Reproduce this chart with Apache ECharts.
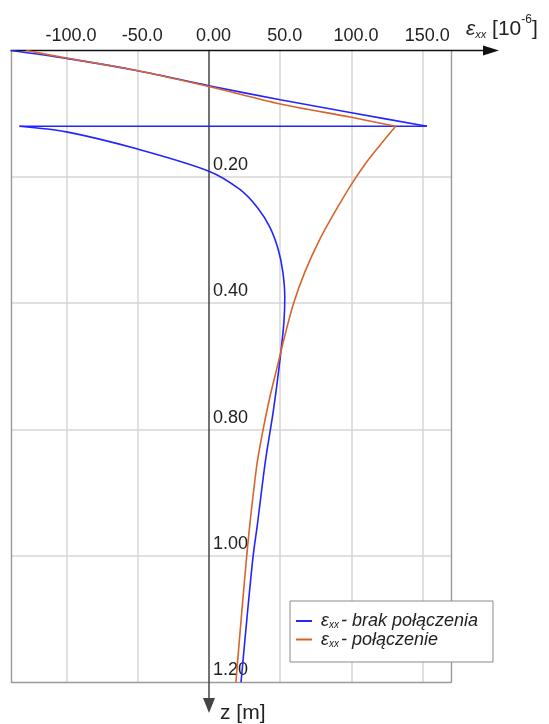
<!DOCTYPE html>
<html>
<head>
<meta charset="utf-8">
<script src="https://cdn.jsdelivr.net/npm/echarts@6/dist/echarts.min.js"></script>
<style>
  html, body { margin: 0; padding: 0; background: #ffffff; }
  #chart { width: 549px; height: 724px; }
</style>
</head>
<body>
<div id="chart"></div>
<script>
// Strain ticks along the top axis [10^-6]
const strainTicks = [-100, -50, 0, 50, 100, 150];
const strainTickLabels = ['-100.0', '-50.0', '0.00', '50.0', '100.0', '150.0'];

// Depth gridlines along the vertical axis [m] and their printed labels
const depthTicks = [0.2, 0.4, 0.6, 0.8, 1.0];
const depthTickLabels = ['0.20', '0.40', '0.80', '1.00', '1.20'];

// Plot frame and axis extents
const strainMin = -138.9;
const strainFrameMax = 170.3;
const strainAxisMax = 197.9;
const depthFrameMax = 1.0;
const depthAxisMax = 1.0368;

// Strain profile without bond between layers: [eps_xx, z]
const noBondUpper = [[-139, 0], [-100, 0.0125], [-50, 0.032], [0, 0.0557], [50, 0.078], [100, 0.0985], [153, 0.12]];
const noBondJump = [[153, 0.12], [-133, 0.12]];
const noBondLower = [[-133, 0.12], [-100, 0.1288], [-50, 0.156], [0, 0.191], [21.7, 0.22], [34.5, 0.25],
  [42.8, 0.28], [48.6, 0.315], [51.8, 0.35], [53.2, 0.39], [52.6, 0.43], [49.8, 0.49], [45.2, 0.57],
  [39.6, 0.65], [34.0, 0.75], [31.0, 0.8], [26.6, 0.9], [22.5, 1.0]];

// Strain profile with bonded layers: [eps_xx, z]
const bondUpper = [[-128, 0], [-100, 0.012], [-50, 0.032], [0, 0.057], [50, 0.0846], [100, 0.1058], [131, 0.12]];
const bondLower = [[131, 0.12], [120, 0.15], [109.5, 0.18], [100.5, 0.21], [89.8, 0.25], [77.5, 0.3],
  [67.4, 0.35], [59.4, 0.4], [53.4, 0.45], [48.0, 0.5], [42.6, 0.55], [38.0, 0.6], [34.0, 0.65],
  [31.2, 0.7], [28.7, 0.75], [26.5, 0.8], [22.6, 0.9], [18.9, 1.0]];

const seriesNames = ['brak połączenia', 'połączenie'];
const seriesColors = ['#2424ff', '#d6652c'];

const FONT = 'Liberation Sans, Arial, sans-serif';
const TEXT = '#222222';

function curve(name, data, color, smooth) {
  return {
    type: 'line', name: name, data: data, smooth: smooth,
    symbol: 'none', silent: true, z: 3,
    lineStyle: { color: color, width: 1.6 }, itemStyle: { color: color }
  };
}

// gridlines and frame drawn in data coordinates
const gridLines = [];
strainTicks.filter(v => v !== 0).forEach(v => {
  gridLines.push([{ coord: [v, 0] }, { coord: [v, depthFrameMax] }]);
});
depthTicks.filter(d => d < depthFrameMax).forEach(d => {
  gridLines.push([{ coord: [strainMin, d] }, { coord: [strainFrameMax, d] }]);
});
const frameStyle = { color: '#9a9a9a', width: 1.4, type: 'solid' };
gridLines.push([{ coord: [strainMin, 0], lineStyle: frameStyle }, { coord: [strainMin, depthFrameMax] }]);
gridLines.push([{ coord: [strainFrameMax, 0], lineStyle: frameStyle }, { coord: [strainFrameMax, depthFrameMax] }]);
gridLines.push([{ coord: [strainMin, depthFrameMax], lineStyle: frameStyle }, { coord: [strainFrameMax, depthFrameMax] }]);

const chart = echarts.init(document.getElementById('chart'), null, { renderer: 'canvas' });

const plain = { fontFamily: FONT, color: TEXT, fontWeight: 'normal' };

chart.setOption({
  animation: false,
  backgroundColor: '#ffffff',
  title: {
    left: 466, top: 14, padding: 0,
    text: '{e|ε}{s|xx}{b| [10}{p|-6}{b|]}',
    textStyle: {
      fontWeight: 'normal',
      rich: {
        e: Object.assign({ fontSize: 21, fontStyle: 'italic', lineHeight: 26, verticalAlign: 'middle' }, plain),
        s: Object.assign({ fontSize: 11, fontStyle: 'italic', verticalAlign: 'middle', padding: [12, 0, 0, 0] }, plain),
        b: Object.assign({ fontSize: 21, lineHeight: 26, verticalAlign: 'middle' }, plain),
        p: Object.assign({ fontSize: 12, verticalAlign: 'middle', padding: [0, 0, 18, 0] }, plain)
      }
    }
  },
  legend: {
    data: seriesNames,
    orient: 'vertical',
    left: 290, top: 601,
    icon: 'rect', itemWidth: 16, itemHeight: 2, itemGap: 0,
    padding: [11, 15, 13, 6],
    backgroundColor: '#ffffff', borderColor: '#8a8a8a', borderWidth: 1,
    selectedMode: false,
    formatter: n => '{e|ε}{s|xx}{t|- ' + n + '}',
    textStyle: {
      rich: {
        e: Object.assign({ fontSize: 18, fontStyle: 'italic', lineHeight: 20, verticalAlign: 'middle', padding: [0, 0, 0, 4] }, plain),
        s: Object.assign({ fontSize: 10, fontStyle: 'italic', verticalAlign: 'middle', padding: [9, 2, 0, 0] }, plain),
        t: Object.assign({ fontSize: 18, fontStyle: 'italic', lineHeight: 20, verticalAlign: 'middle' }, plain)
      }
    }
  },
  grid: { left: 11, right: 58, top: 50.5, bottom: 16.5, show: false },
  xAxis: {
    type: 'value', position: 'top', min: strainMin, max: strainAxisMax,
    axisLine: { show: true, onZero: false, symbol: ['none', 'triangle'], symbolSize: [10, 16], lineStyle: { color: '#111111', width: 1.3 } },
    axisTick: { show: false },
    splitLine: { show: false },
    axisLabel: {
      customValues: strainTicks, margin: 5,
      formatter: v => { const i = strainTicks.indexOf(v); return i < 0 ? '' : '{a|' + strainTickLabels[i] + '}'; },
      rich: { a: Object.assign({ fontSize: 18, padding: [0, 0, 0, 9] }, plain) }
    }
  },
  yAxis: {
    type: 'value', inverse: true, min: 0, max: depthAxisMax,
    position: 'left', offset: -198,
    axisLine: { show: true, onZero: false, symbol: ['triangle', 'none'], symbolSize: [12, 15], lineStyle: { color: '#444444', width: 1.5 } },
    axisTick: { show: false },
    splitLine: { show: false },
    axisLabel: {
      inside: true, customValues: depthTicks, margin: 4,
      verticalAlign: 'bottom', fontFamily: FONT, fontSize: 18, color: TEXT, padding: [0, 0, 3, 0],
      formatter: v => { const i = depthTicks.findIndex(d => Math.abs(d - v) < 1e-6); return i < 0 ? '' : depthTickLabels[i]; }
    },
    name: 'z [m]', nameLocation: 'end', nameGap: 8,
    nameTextStyle: { fontFamily: FONT, fontSize: 21, color: TEXT, align: 'left', verticalAlign: 'middle', padding: [0, 0, 0, 11] }
  },
  series: [
    {
      type: 'line', name: 'siatka', data: [], silent: true, symbol: 'none',
      markLine: {
        silent: true, z: -1, symbol: ['none', 'none'], label: { show: false }, animation: false,
        lineStyle: { color: '#d6d6d6', width: 1.5, type: 'solid' },
        data: gridLines
      }
    },
    curve(seriesNames[0], noBondUpper, seriesColors[0], 0.3),
    curve(seriesNames[0], noBondJump, seriesColors[0], false),
    curve(seriesNames[0], noBondLower, seriesColors[0], 0.3),
    curve(seriesNames[1], bondUpper, seriesColors[1], 0.3),
    curve(seriesNames[1], bondLower, seriesColors[1], 0.3)
  ]
});
</script>
</body>
</html>
